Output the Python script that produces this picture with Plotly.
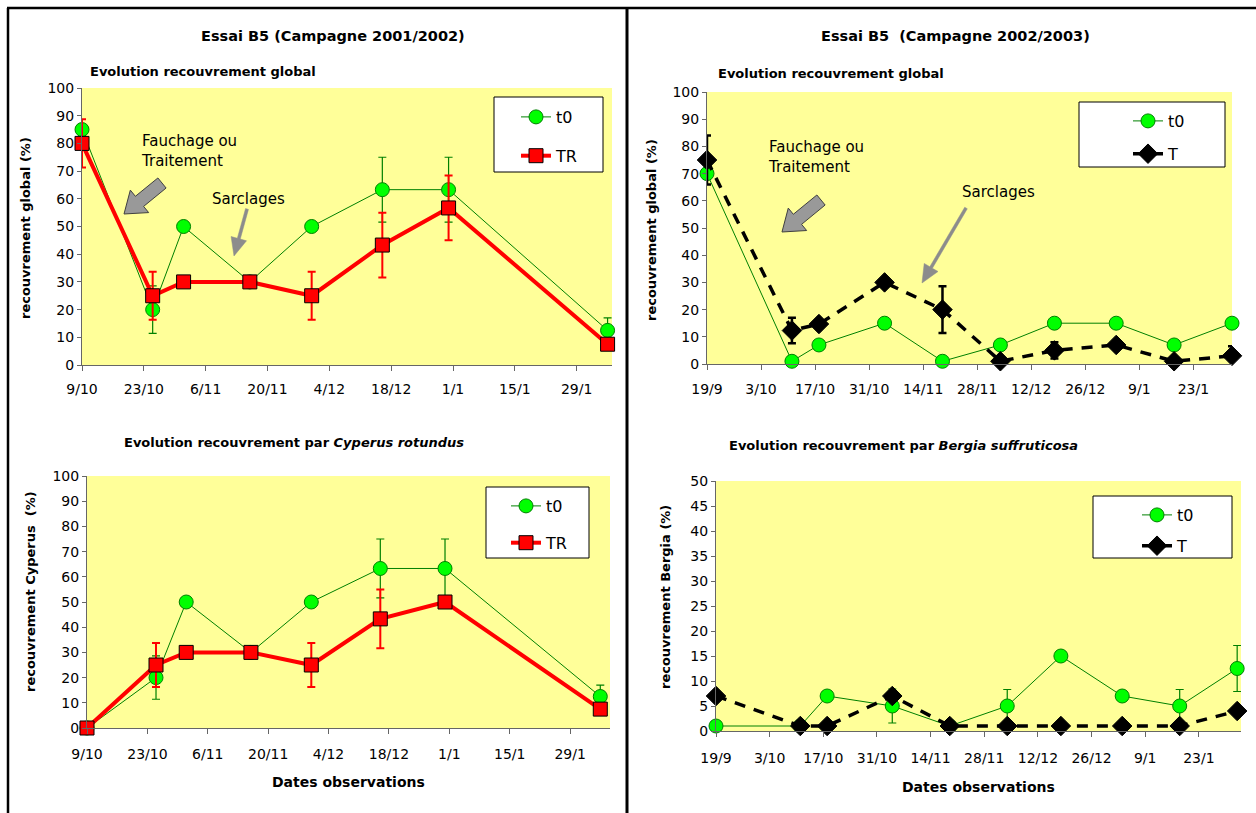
import math
import plotly.graph_objects as go

W, H = 1256, 813

# ---------------- Data : campagne 2001/2002 ----------------
dates_0102 = ["2001-10-09", "2001-10-25", "2001-11-01", "2001-11-16",
              "2001-11-30", "2001-12-16", "2001-12-31", "2002-02-05"]
t0_global_0102 = [85, 20, 50, 30, 50, 63.3, 63.3, 12.5]
t0_global_0102_err = [None, 8.6, None, None, None, 11.7, 11.7, 4.5]
tr_global_0102 = [80, 25, 30, 30, 25, 43.3, 56.7, 7.5]
tr_global_0102_err = [8.7, 8.7, None, None, 8.7, 11.7, 11.7, None]

t0_cyperus_0102 = [0, 20, 50, 30, 50, 63.3, 63.3, 12.5]
t0_cyperus_0102_err = [None, 8.6, None, None, None, 11.7, 11.7, 4.5]
tr_cyperus_0102 = [0, 25, 30, 30, 25, 43.3, 50, 7.5]
tr_cyperus_0102_err = [None, 8.7, None, None, 8.7, 11.7, None, None]

tickvals_0102 = ["2001-10-09", "2001-10-23", "2001-11-06", "2001-11-20", "2001-12-04",
                 "2001-12-18", "2002-01-01", "2002-01-15", "2002-01-29"]
ticktext_0102 = ["9/10", "23/10", "6/11", "20/11", "4/12", "18/12", "1/1", "15/1", "29/1"]

# ---------------- Data : campagne 2002/2003 ----------------
dates_0203 = ["2002-09-19", "2002-10-11", "2002-10-18", "2002-11-04", "2002-11-19",
              "2002-12-04", "2002-12-18", "2003-01-03", "2003-01-18", "2003-02-02"]
t0_global_0203 = [70, 1, 7, 15, 1, 7, 15, 15, 7, 15]
t_global_0203 = [75, 12.3, 14.7, 30, 20, 1, 5, 7, 1, 3]
t_global_0203_err = [9, 4.7, None, None, 8.6, None, 3, None, None, 3.5]

t0_bergia_0203 = [1, 1, 7, 5, 1, 5, 15, 7, 5, 12.5]
t0_bergia_0203_err = [None, None, None, 3.4, None, 3.3, None, None, 3.3, 4.6]
t_bergia_0203 = [7, 1, 1, 7, 1, 1, 1, 1, 1, 4]

tickvals_0203 = ["2002-09-19", "2002-10-03", "2002-10-17", "2002-10-31", "2002-11-14",
                 "2002-11-28", "2002-12-12", "2002-12-26", "2003-01-09", "2003-01-23"]
ticktext_0203 = ["19/9", "3/10", "17/10", "31/10", "14/11", "28/11", "12/12", "26/12", "9/1", "23/1"]

# ---------------- Styles ----------------
FONT = "DejaVu Sans"
GREEN_LINE = "#008000"
GREEN_FILL = "#00FF00"
RED = "#FF0000"
BG = "#FFFF99"


def px(x):
    return x / W


def py(y):
    return 1 - y / H


fig = go.Figure()


def t0_trace(x, y, err, xa, ya, leg):
    return go.Scatter(
        x=x, y=y, mode="lines+markers", name="t0", xaxis=xa, yaxis=ya,
        legend=leg, legendgroup=leg + "a",
        line=dict(color=GREEN_LINE, width=1),
        marker=dict(symbol="circle", size=14, color=GREEN_FILL,
                    line=dict(color=GREEN_LINE, width=1)),
        error_y=dict(type="data", array=err, visible=True, color=GREEN_LINE,
                     thickness=1.2, width=4),
        cliponaxis=False,
    )


def tr_trace(x, y, err, xa, ya, leg):
    return go.Scatter(
        x=x, y=y, mode="lines+markers", name="TR", xaxis=xa, yaxis=ya,
        legend=leg, legendgroup=leg + "b",
        line=dict(color=RED, width=4),
        marker=dict(symbol="square", size=14, color=RED,
                    line=dict(color="#000000", width=1)),
        error_y=dict(type="data", array=err, visible=True, color=RED,
                     thickness=2, width=4),
        cliponaxis=False,
    )


def t_trace(x, y, err, xa, ya, leg):
    return go.Scatter(
        x=x, y=y, mode="lines+markers", name="T", xaxis=xa, yaxis=ya,
        legend=leg, legendgroup=leg + "b",
        line=dict(color="#000000", width=3.5, dash="11px,9px"),
        marker=dict(symbol="diamond", size=15, color="#000000",
                    line=dict(color="#000000", width=1)),
        error_y=dict(type="data", array=err, visible=True, color="#000000",
                     thickness=2.5, width=4),
        cliponaxis=False,
    )


fig.add_trace(t0_trace(dates_0102, t0_global_0102, t0_global_0102_err, "x", "y", "legend"))
fig.add_trace(tr_trace(dates_0102, tr_global_0102, tr_global_0102_err, "x", "y", "legend"))
fig.add_trace(t0_trace(dates_0102, t0_cyperus_0102, t0_cyperus_0102_err, "x2", "y2", "legend2"))
fig.add_trace(tr_trace(dates_0102, tr_cyperus_0102, tr_cyperus_0102_err, "x2", "y2", "legend2"))
fig.add_trace(t0_trace(dates_0203, t0_global_0203, [None] * len(dates_0203), "x3", "y3", "legend3"))
fig.add_trace(t_trace(dates_0203, t_global_0203, t_global_0203_err, "x3", "y3", "legend3"))
fig.add_trace(t0_trace(dates_0203, t0_bergia_0203, t0_bergia_0203_err, "x4", "y4", "legend4"))
fig.add_trace(t_trace(dates_0203, t_bergia_0203, [None] * len(dates_0203), "x4", "y4", "legend4"))

tickfont = dict(family=FONT, size=14, color="#000000")


def xaxis(dom, rng, tv, tt, standoff, anchor):
    return dict(domain=[px(dom[0]), px(dom[1])], type="date", range=rng,
                tickmode="array", tickvals=tv, ticktext=tt, anchor=anchor,
                showline=True, linecolor="#666666", linewidth=1,
                ticks="outside", ticklen=5, tickcolor="#666666",
                showgrid=False, zeroline=False, tickfont=tickfont,
                ticklabelstandoff=standoff, fixedrange=True, automargin=False)


def yaxis(dom, rng, dtick, anchor):
    return dict(domain=[py(dom[1]), py(dom[0])], range=rng, dtick=dtick,
                tick0=0, anchor=anchor,
                showline=True, linecolor="#666666", linewidth=1,
                ticks="outside", ticklen=4, tickcolor="#666666",
                showgrid=False, zeroline=False, tickfont=tickfont,
                fixedrange=True, automargin=False)


fig.update_layout(
    width=W, height=H,
    margin=dict(l=0, r=0, t=0, b=0, pad=0, autoexpand=False),
    paper_bgcolor="#FFFFFF", plot_bgcolor=BG,
    font=dict(family=FONT, color="#000000"),
    xaxis=xaxis((82, 612), ["2001-10-09", "2002-02-06"], tickvals_0102, ticktext_0102, 6, "y"),
    yaxis=yaxis((88, 365), [0, 100], 10, "x"),
    xaxis2=xaxis((87, 610), ["2001-10-09", "2002-02-07 06:00"], tickvals_0102, ticktext_0102, 8, "y2"),
    yaxis2=yaxis((476, 728), [0, 100], 10, "x2"),
    xaxis3=xaxis((707, 1232), ["2002-09-19", "2003-02-02"], tickvals_0203, ticktext_0203, 7, "y3"),
    yaxis3=yaxis((92, 364), [0, 100], 10, "x3"),
    xaxis4=xaxis((716, 1241), ["2002-09-19", "2003-02-03"], tickvals_0203, ticktext_0203, 9, "y4"),
    yaxis4=yaxis((481, 731), [0, 50], 5, "x4"),
)

# ---------------- Legends ----------------
legfont = dict(family=FONT, size=16, color="#000000")


def legend(x, ytop, gap):
    return dict(x=px(x), y=py(ytop), xanchor="left", yanchor="top",
                bgcolor="rgba(0,0,0,0)", borderwidth=0, font=legfont,
                traceorder="grouped", tracegroupgap=gap, itemsizing="trace")


fig.update_layout(
    legend=legend(516, 100, 15),
    legend2=legend(506, 489, 13),
    legend3=legend(1128, 104, 9),
    legend4=legend(1137, 498, 7),
)

shapes = []
for (x0, y0, x1, y1) in [(494, 97, 603, 172), (486, 487, 589, 558),
                         (1079, 102, 1225, 167), (1093, 496, 1232, 558)]:
    shapes.append(dict(type="rect", xref="paper", yref="paper",
                       x0=px(x0), x1=px(x1), y0=py(y1), y1=py(y0),
                       fillcolor="#FFFFFF", line=dict(color="#000000", width=1),
                       layer="above"))

# frame lines
for (x0, y0, x1, y1, w) in [(7, 8, 1256, 8, 2.5), (8, 8, 8, 813, 2.5), (627, 8, 627, 813, 3)]:
    shapes.append(dict(type="line", xref="paper", yref="paper",
                       x0=px(x0), x1=px(x1), y0=py(y0), y1=py(y1),
                       line=dict(color="#000000", width=w)))


def arrow_path(tail, tip, shaft_w, head_w, head_len):
    dx, dy = tip[0] - tail[0], tip[1] - tail[1]
    L = math.hypot(dx, dy)
    ux, uy = dx / L, dy / L
    nx, ny = -uy, ux
    bx, by = tip[0] - ux * head_len, tip[1] - uy * head_len
    pts = [
        (tail[0] + nx * shaft_w / 2, tail[1] + ny * shaft_w / 2),
        (bx + nx * shaft_w / 2, by + ny * shaft_w / 2),
        (bx + nx * head_w / 2, by + ny * head_w / 2),
        tip,
        (bx - nx * head_w / 2, by - ny * head_w / 2),
        (bx - nx * shaft_w / 2, by - ny * shaft_w / 2),
        (tail[0] - nx * shaft_w / 2, tail[1] - ny * shaft_w / 2),
    ]
    return "M " + " L ".join(f"{px(a):.5f},{py(b):.5f}" for a, b in pts) + " Z"


# block arrows (Fauchage ou Traitement)
for tail, tip in [((162, 183), (124, 214)), ((821, 200), (782, 232))]:
    shapes.append(dict(type="path", xref="paper", yref="paper",
                       path=arrow_path(tail, tip, 13, 29, 20),
                       fillcolor="#999999", line=dict(color="#404040", width=1),
                       layer="above"))
# thin arrows (Sarclages)
for tail, tip in [((247, 209), (234, 256)), ((966, 208), (922, 283))]:
    shapes.append(dict(type="path", xref="paper", yref="paper",
                       path=arrow_path(tail, tip, 3, 16, 18),
                       fillcolor="#8C8C8C", line=dict(color="#8C8C8C", width=0.5),
                       layer="above"))

fig.update_layout(shapes=shapes)

# ---------------- Text ----------------
ann = []


def text(x, y, s, size, xanchor="left", bold=False, angle=0):
    if bold:
        s = "<b>" + s + "</b>"
    ann.append(dict(x=px(x), y=py(y), xref="paper", yref="paper", text=s,
                    showarrow=False, xanchor=xanchor, yanchor="middle",
                    textangle=angle, font=dict(family=FONT, size=size, color="#000000")))


text(333, 36, "Essai B5 (Campagne 2001/2002)", 14.5, "center", True)
text(955, 36, "Essai B5  (Campagne 2002/2003)", 14.5, "center", True)
text(88, 71, "Evolution recouvrement global", 13, "left", True)
text(716, 73, "Evolution recouvrement global", 13, "left", True)
text(122, 443, "Evolution recouvrement par <i>Cyperus rotundus</i>", 13, "left", True)
text(727, 445, "Evolution recouvrement par <i>Bergia suffruticosa</i>", 13, "left", True)

text(26, 228, "recouvrement global (%)", 13, "center", True, -90)
text(30, 592, "recouvrement Cyperus  (%)", 13, "center", True, -90)
text(652, 230, "recouvrement global (%)", 13, "center", True, -90)
text(665, 597, "recouvrement Bergia (%)", 13, "center", True, -90)

text(348, 782, "Dates observations", 14, "center", True)
text(978, 787, "Dates observations", 14, "center", True)

for (x, y) in [(139, 151), (766, 157)]:
    ann.append(dict(x=px(x), y=py(y), xref="paper", yref="paper",
                    text="Fauchage ou<br>Traitement", showarrow=False, align="left",
                    xanchor="left", yanchor="middle",
                    font=dict(family=FONT, size=15, color="#000000")))
text(210, 199, "Sarclages", 15, "left")
text(960, 192, "Sarclages", 15, "left")

fig.update_layout(annotations=ann)

fig.write_html(
    "out.html",
    config={"displayModeBar": False},
    post_script="document.body.style.margin='0';document.body.style.overflow='hidden';",
)
